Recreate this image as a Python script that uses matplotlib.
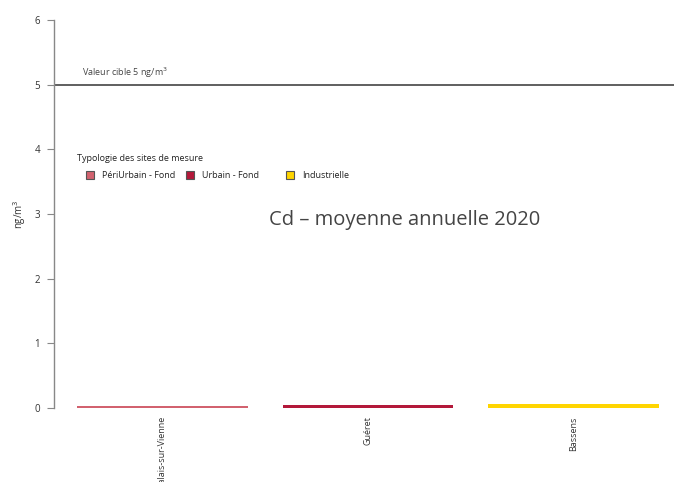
import matplotlib
matplotlib.use("Agg")
import matplotlib.pyplot as plt
from matplotlib.patches import Rectangle

sites = ["Le Palais-sur-Vienne", "Guéret", "Bassens"]
values = [0.03, 0.045, 0.06]
typologies = ["PériUrbain - Fond", "Urbain - Fond", "Industrielle"]
colors = ["#D2626F", "#B3183A", "#FFD500"]
target_value = 5
target_label = "Valeur cible 5 ng/m$^3$"
title = "Cd – moyenne annuelle 2020"
ylabel = "ng/m$^3$"
yticks = [0, 1, 2, 3, 4, 5, 6]

plt.rcParams['font.family'] = ['Open Sans', 'DejaVu Sans']
W, H = 674, 482
fig = plt.figure(figsize=(W / 100, H / 100), dpi=100)

def fx(px):
    return px / W

def fy(py):
    return 1 - py / H

ax = fig.add_axes([fx(54), fy(408), fx(674) - fx(54), fy(20) - fy(408)])
x = list(range(len(sites)))
ax.bar(x, values, width=0.832, color=colors, edgecolor='none')
ax.axhline(target_value, color="#444444", lw=1.2)
ax.set_xlim(-0.528, 2.489)
ax.set_ylim(0, 6)
ax.set_yticks(yticks)
ax.set_yticklabels([str(t) for t in yticks], fontsize=7, color="#333333")
ax.set_xticks(x)
ax.set_xticklabels(sites, rotation=90, fontsize=6.5, color="#333333", va='top', ha='center')
ax.tick_params(axis='x', length=0, pad=6)
ax.tick_params(axis='y', length=5, width=0.8, color="#888888", pad=5)
for s in ['top', 'right', 'bottom']:
    ax.spines[s].set_visible(False)
ax.spines['left'].set_color("#888888")
ax.spines['left'].set_linewidth(1.0)
ax.set_ylabel(ylabel, fontsize=7, color="#333333", labelpad=5)

fig.text(fx(82), fy(73), target_label, fontsize=6.5, color="#444444", va='center', ha='left')
fig.text(fx(405), fy(220), title, fontsize=14.5, color="#444444", va='center', ha='center')

# legend
fig.text(fx(77), fy(159), "Typologie des sites de mesure", fontsize=6.5, color="#222222", va='center', ha='left')
for i, (lab, c) in enumerate(zip(typologies, colors)):
    x0 = 86 + 100 * i
    fig.patches.append(Rectangle((fx(x0), fy(179)), fx(8), fy(171) - fy(179), transform=fig.transFigure,
                                 facecolor=c, edgecolor="#555555", lw=0.8))
    fig.text(fx(x0 + 16), fy(175), lab, fontsize=6.5, color="#222222", va='center', ha='left')

fig.savefig("out.png", dpi=100)
